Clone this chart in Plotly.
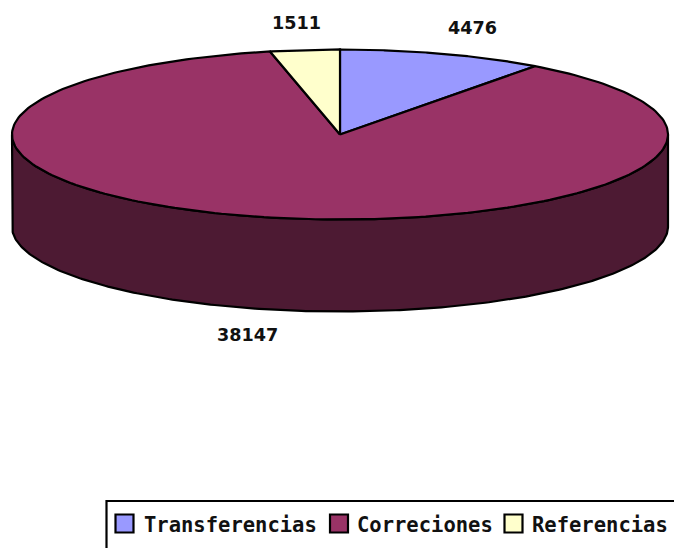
import math
import plotly.graph_objects as go

categories = ["Transferencias", "Correciones", "Referencias"]
values = [4476, 38147, 1511]
colors = ["#9999FF", "#993366", "#FFFFCC"]
wall_color = "#4D1A33"

W, H = 674, 548
cx, cy, rx, ry, depth = 340, 134.5, 328, 85, 92
total = sum(values)


def arc(t0, t1, dy=0.0, n=240):
    pts = [t0 + (t1 - t0) * i / n for i in range(n + 1)]
    return ([cx + rx * math.sin(t) for t in pts],
            [cy + dy - ry * math.cos(t) for t in pts])


fig = go.Figure()

# side wall: the visible front half of the disc
xa, ya = arc(math.pi / 2, 3 * math.pi / 2)
xb, yb = arc(3 * math.pi / 2, math.pi / 2, dy=depth)
fig.add_trace(go.Scatter(x=xa + xb + xa[:1], y=ya + yb + ya[:1], mode="lines",
                         fill="toself", fillcolor=wall_color,
                         line=dict(color="black", width=2.2),
                         hoverinfo="skip", showlegend=False))

# top slices, clockwise from twelve o'clock
start = 0.0
for name, v, c in zip(categories, values, colors):
    end = start + 2 * math.pi * v / total
    xs, ys = arc(start, end)
    fig.add_trace(go.Scatter(x=[cx] + xs + [cx], y=[cy] + ys + [cy], mode="lines",
                             fill="toself", fillcolor=c, name=name,
                             line=dict(color="black", width=2.2),
                             showlegend=False))
    start = end

label_pos = [(472, 28), (247, 335), (296, 23)]
for v, (x, y) in zip(values, label_pos):
    fig.add_annotation(x=x, y=y, text=f"<b>{v}</b>", showarrow=False,
                       xanchor="center", yanchor="middle",
                       font=dict(family="DejaVu Sans", size=17.6, color="#111111"))

# legend
fig.add_shape(type="rect", x0=106.5, y0=501, x1=700, y1=570,
              line=dict(color="black", width=2.2), fillcolor="white", layer="below")
swatch_x = [124.5, 339, 513.5]
text_x = [141.5, 354.5, 529.5]
for name, c, sx, tx in zip(categories, colors, swatch_x, text_x):
    fig.add_shape(type="rect", x0=sx - 9, y0=514.5, x1=sx + 9, y1=532.5, fillcolor=c,
                  line=dict(color="black", width=2.2))
    fig.add_annotation(x=tx, y=525, text=f"<b>{name}</b>", showarrow=False,
                       xanchor="left", yanchor="middle",
                       font=dict(family="DejaVu Sans Mono", size=20.5, color="#111111"))

fig.update_layout(
    width=W, height=H, margin=dict(l=0, r=0, t=0, b=0), autosize=False,
    paper_bgcolor="white", plot_bgcolor="white", showlegend=False,
    xaxis=dict(range=[0, W], visible=False, fixedrange=True),
    yaxis=dict(range=[H, 0], visible=False, fixedrange=True),
)
fig.write_html("out.html", config={"displayModeBar": False},
               post_script="document.body.style.margin='0';document.body.style.overflow='hidden';")
